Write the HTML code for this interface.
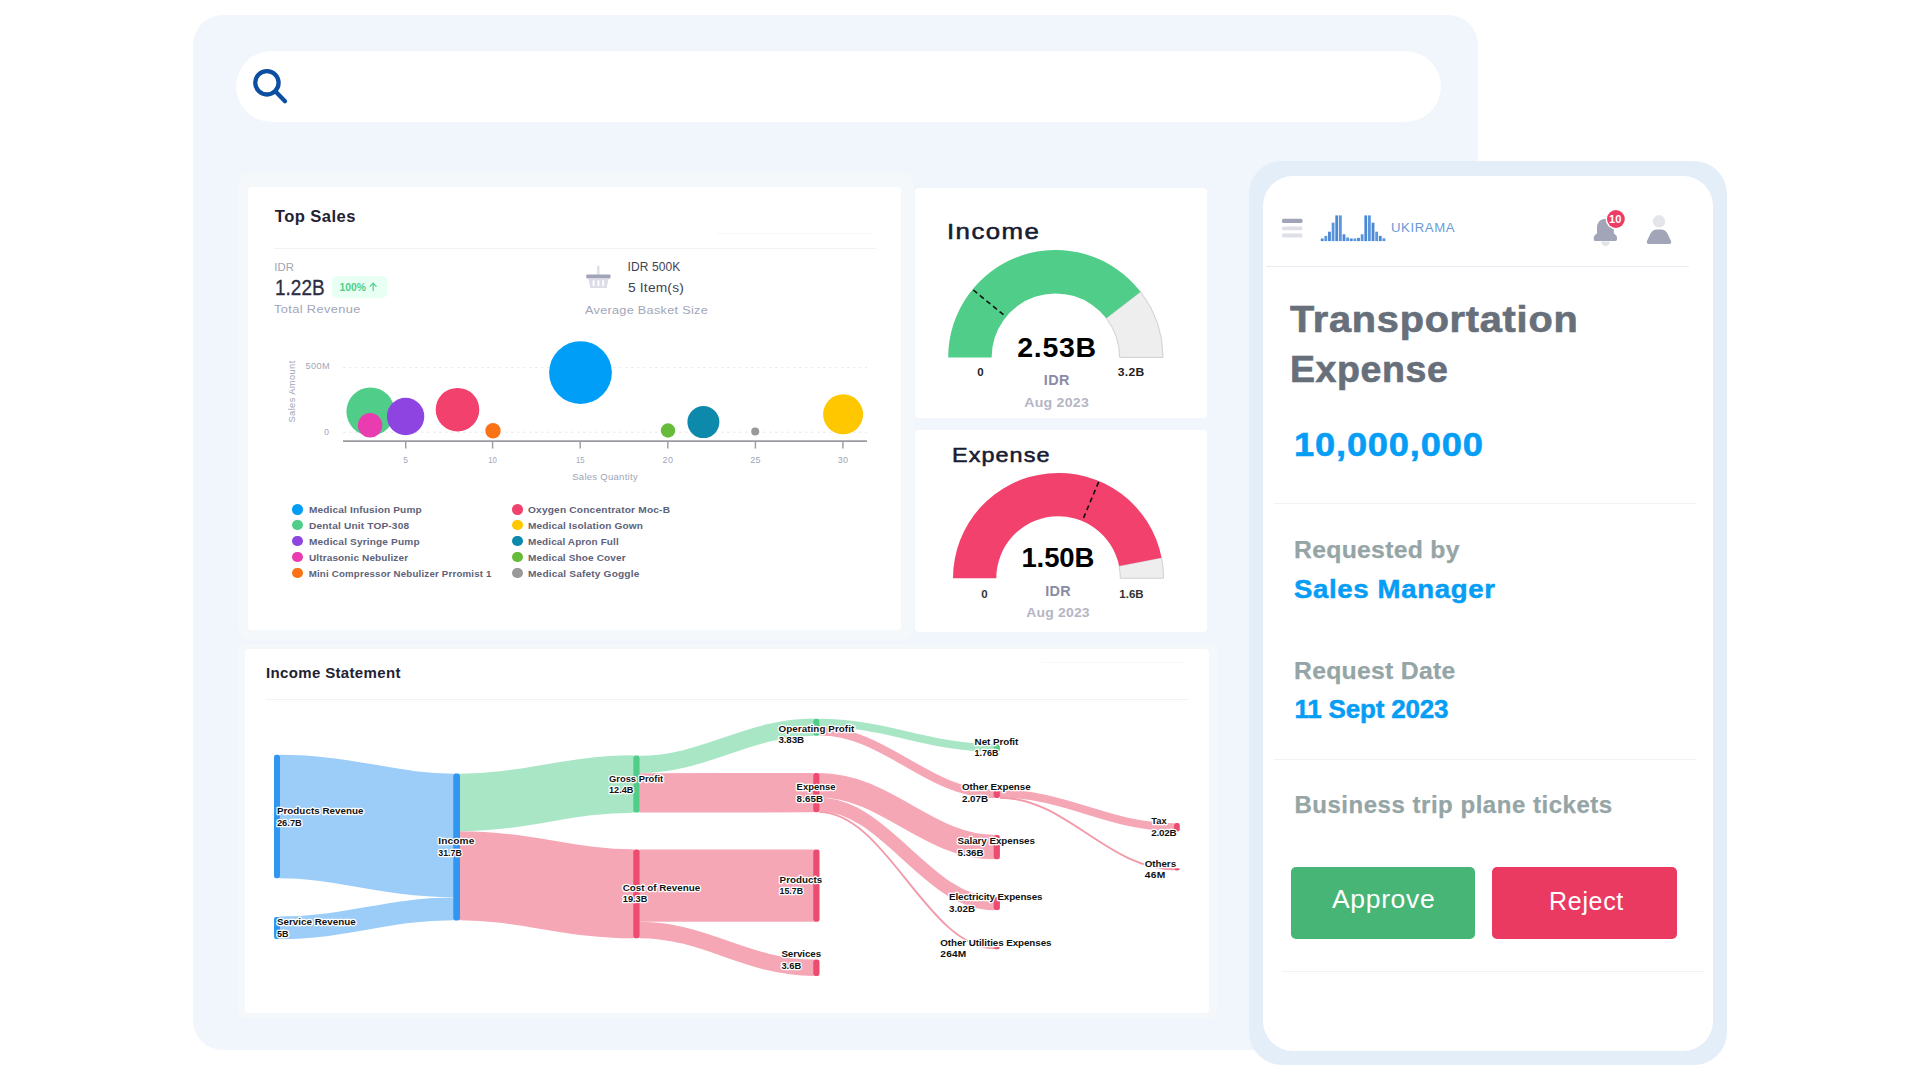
<!DOCTYPE html>
<html lang="en"><head><meta charset="utf-8"><title>Ukirama Dashboard</title>
<style>

html,body{margin:0;padding:0;background:#fff;}
body{width:1920px;height:1080px;position:relative;overflow:hidden;font-family:"Liberation Sans", sans-serif;}
.abs{position:absolute;}
.t{position:absolute;white-space:nowrap;line-height:1;display:block;transform-origin:0 0;}
.panel{left:193px;top:15px;width:1285px;height:1035px;background:#f1f5fc;border-radius:30px;}
.search{left:236px;top:51px;width:1205px;height:71px;background:#fff;border-radius:36px;}
.halo{left:237.5px;top:172px;width:676.3px;height:469px;background:#f5f8fb;border-radius:14px;}
.halo2{left:237.5px;top:644px;width:979.2px;height:374px;background:#f5f8fb;border-radius:5px;}
.card{background:#fff;border-radius:4px;}
.c-top{left:248px;top:187px;width:653px;height:443px;}
.c-inc{left:914.5px;top:187.5px;width:292px;height:230.5px;}
.c-exp{left:914.5px;top:429.5px;width:292px;height:202.5px;}
.c-is{left:244.7px;top:648.7px;width:964px;height:364px;}
.hr{height:1px;background:#f0f2f6;}
.phone-o{left:1249px;top:161px;width:478px;height:904.3px;background:#e4eef9;border-radius:33px;}
.phone-i{left:1263px;top:175.6px;width:450px;height:875.6px;background:#fff;border-radius:30px;}
.btn{border-radius:5px;height:72px;top:866.7px;}
.badge{left:331.5px;top:276.3px;width:55.8px;height:22.2px;border-radius:5px;background:#e8fff3;}
.dot{width:10.6px;height:10.6px;border-radius:50%;}
svg{position:absolute;left:0;top:0;overflow:visible;}
svg text{font-family:"Liberation Sans", sans-serif;white-space:pre;}

</style></head><body>
<div class="abs panel"></div>
<div class="abs search"></div>
<svg width="1920" height="1080" viewBox="0 0 1920 1080"><g fill="none" stroke="#0b4ea2" stroke-width="4.3" stroke-linecap="round"><circle cx="266.9" cy="82.8" r="11.7"/><path d="M275.6 91.6 L285.0 101.2"/></g></svg>
<div class="abs halo"></div><div class="abs halo2"></div>
<div class="abs card c-top"></div><div class="abs card c-inc"></div><div class="abs card c-exp"></div><div class="abs card c-is"></div>
<div class="abs hr" style="left:274px;top:247.5px;width:602px;"></div>
<div class="abs hr" style="left:716px;top:233px;width:156px;background:#f7f8fa;"></div>
<div class="abs hr" style="left:266px;top:698.5px;width:922px;"></div>
<div class="abs hr" style="left:1042px;top:662px;width:142px;background:#f7f8fa;"></div>
<div class="abs badge"></div>
<div class="abs dot" style="left:292.3px;top:504.0px;background:#009ef7"></div>
<div class="abs dot" style="left:292.3px;top:519.9px;background:#50cd89"></div>
<div class="abs dot" style="left:292.3px;top:535.9px;background:#8e44e0"></div>
<div class="abs dot" style="left:292.3px;top:551.9px;background:#e83cb0"></div>
<div class="abs dot" style="left:292.3px;top:567.9px;background:#f97316"></div>
<div class="abs dot" style="left:512.0px;top:504.0px;background:#f1416c"></div>
<div class="abs dot" style="left:512.0px;top:519.9px;background:#ffc700"></div>
<div class="abs dot" style="left:512.0px;top:535.9px;background:#0d8aab"></div>
<div class="abs dot" style="left:512.0px;top:551.9px;background:#66bb3a"></div>
<div class="abs dot" style="left:512.0px;top:567.9px;background:#999999"></div>
<svg id="bubble" width="1920" height="1080" viewBox="0 0 1920 1080">
<g stroke="#e4e6ef" stroke-width="1" stroke-dasharray="2.5 3.5"><path d="M343 367.7H867"/><path d="M343 432.2H867"/></g>
<path d="M343 441.2H867" stroke="#9b9ba0" stroke-width="1.8"/>
<g stroke="#9b9ba0" stroke-width="1.4"><path d="M405.7 441V448.6"/><path d="M492.6 441V448.6"/><path d="M580.2 441V448.6"/><path d="M667.8 441V448.6"/><path d="M755.4 441V448.6"/><path d="M842.9 441V448.6"/></g>
<circle cx="370.5" cy="411.6" r="24.1" fill="#50cd89"/>
<circle cx="405.6" cy="416.5" r="18.7" fill="#8e44e0"/>
<circle cx="370.1" cy="425.3" r="12.2" fill="#e83cb0"/>
<circle cx="457.5" cy="409.7" r="21.8" fill="#f1416c"/>
<circle cx="493.0" cy="430.8" r="7.7" fill="#f97316"/>
<circle cx="580.5" cy="372.6" r="31.4" fill="#009ef7"/>
<circle cx="668.0" cy="430.5" r="7.2" fill="#66bb3a"/>
<circle cx="703.4" cy="422.1" r="16.0" fill="#0d8aab"/>
<circle cx="755.2" cy="431.4" r="4.0" fill="#999999"/>
<circle cx="843.1" cy="414.3" r="20.0" fill="#ffc700"/>
<text id="b_500" transform="translate(305.6,368.6) scale(1.0901,1)" x="0.0" y="0" font-size="8.4" font-weight="400" fill="#a1a5b7" letter-spacing="0.385" >500M</text>
<text id="b_0" transform="translate(324.2,435.0) scale(1.0000,1)" x="0.0" y="0" font-size="8.4" font-weight="400" fill="#a1a5b7" letter-spacing="0.000" >0</text>
<text id="b_x0" transform="translate(403.3,463.0) scale(1.0000,1)" x="0.0" y="0" font-size="8.4" font-weight="400" fill="#a1a5b7" letter-spacing="0.000" >5</text>
<text id="b_x1" transform="translate(488.3,463.0) scale(0.9219,1)" x="0.0" y="0" font-size="8.4" font-weight="400" fill="#a1a5b7" letter-spacing="0.000" >10</text>
<text id="b_x2" transform="translate(575.9,463.0) scale(0.9219,1)" x="0.0" y="0" font-size="8.4" font-weight="400" fill="#a1a5b7" letter-spacing="0.000" >15</text>
<text id="b_x3" transform="translate(662.6,463.0) scale(1.0689,1)" x="0.0" y="0" font-size="8.4" font-weight="400" fill="#a1a5b7" letter-spacing="0.401" >20</text>
<text id="b_x4" transform="translate(750.2,463.0) scale(1.0689,1)" x="0.0" y="0" font-size="8.4" font-weight="400" fill="#a1a5b7" letter-spacing="0.401" >25</text>
<text id="b_x5" transform="translate(837.7,463.0) scale(1.0689,1)" x="0.0" y="0" font-size="8.4" font-weight="400" fill="#a1a5b7" letter-spacing="0.401" >30</text>
<text id="b_sq" transform="translate(572.2,480.3) scale(1.1032,1)" x="0.0" y="0" font-size="8.6" font-weight="400" fill="#a1a5b7" letter-spacing="0.268" >Sales Quantity</text>
<text id="b_sa" transform="translate(294.6,391.6) rotate(-90) scale(1.1338,1)" x="-27.3" y="0" font-size="8.2" font-weight="400" fill="#a1a5b7" letter-spacing="0.361" >Sales Amount</text>
<path d="M373.2 290.6V283.4M370.2 286.3L373.2 283.2L376.2 286.3" stroke="#50cd89" stroke-width="1.15" fill="none" stroke-linecap="round" stroke-linejoin="round"/>
<g><path d="M598.3 265.6V275" stroke="#dcdde6" stroke-width="2.3"/><rect x="586.3" y="274.6" width="24.2" height="3.8" rx="1" fill="#a1a3b8"/><path d="M588.3 278.4H608.6L606.6 288H590.3Z" fill="#dcdde6"/><g stroke="#fff" stroke-width="1.9"><path d="M593.6 280.3V286.2"/><path d="M598.4 280.3V286.2"/><path d="M603.2 280.3V286.2"/></g></g>
</svg>
<svg id="gauges" width="1920" height="1080" viewBox="0 0 1920 1080">
<path d="M1140.59,291.74 A107.40,107.40 0 0 1 1163.00,357.40 L1119.60,357.40 A64.00,64.00 0 0 0 1106.25,318.27 Z" fill="#eeeeee" stroke="#d0d0d0" stroke-width="1"/>
<path d="M948.20,357.40 A107.40,107.40 0 0 1 1140.59,291.74 L1106.25,318.27 A64.00,64.00 0 0 0 991.60,357.40 Z" fill="#50cd89"/>
<path d="M973.3 290.0L1006.1 316.9" stroke="#111" stroke-width="1.6" stroke-dasharray="5 3.5"/>
<path d="M1161.58,557.66 A105.30,105.30 0 0 1 1163.60,578.20 L1120.30,578.20 A62.00,62.00 0 0 0 1119.11,566.10 Z" fill="#eeeeee" stroke="#d0d0d0" stroke-width="1"/>
<path d="M953.00,578.20 A105.30,105.30 0 0 1 1161.58,557.66 L1119.11,566.10 A62.00,62.00 0 0 0 996.30,578.20 Z" fill="#f1416c"/>
<path d="M1098.6 482.0L1082.2 521.0" stroke="#111" stroke-width="1.6" stroke-dasharray="5 3.5"/>
<text id="gi_v" transform="translate(1017.2,356.5) scale(1.0000,1)" x="0.0" y="0" font-size="28.5" font-weight="700" fill="#000000" letter-spacing="0.709" >2.53B</text>
<text id="gi_0" transform="translate(977.3,376.3) scale(1.0000,1)" x="0.0" y="0" font-size="11.5" font-weight="700" fill="#222222" letter-spacing="0.000" >0</text>
<text id="gi_m" transform="translate(1117.7,376.3) scale(1.0569,1)" x="0.0" y="0" font-size="11.5" font-weight="700" fill="#222222" letter-spacing="0.291" >3.2B</text>
<text id="gi_idr" transform="translate(1043.8,385.3) scale(1.0438,1)" x="0.0" y="0" font-size="13.8" font-weight="700" fill="#8a8ba5" letter-spacing="0.332" >IDR</text>
<text id="gi_d" transform="translate(1024.2,406.8) scale(1.0457,1)" x="0.0" y="0" font-size="13.5" font-weight="700" fill="#b5b5c3" letter-spacing="0.250" >Aug 2023</text>
<text id="ge_v" transform="translate(1021.4,567.4) scale(1.0000,1)" x="0.0" y="0" font-size="27.5" font-weight="700" fill="#000000" letter-spacing="-0.098" >1.50B</text>
<text id="ge_0" transform="translate(981.2,597.6) scale(1.0000,1)" x="0.0" y="0" font-size="11.5" font-weight="700" fill="#333333" letter-spacing="0.000" >0</text>
<text id="ge_m" transform="translate(1119.3,597.6) scale(1.0000,1)" x="0.0" y="0" font-size="11.5" font-weight="700" fill="#333333" letter-spacing="0.001" >1.6B</text>
<text id="ge_idr" transform="translate(1045.2,595.8) scale(1.0438,1)" x="0.0" y="0" font-size="13.8" font-weight="700" fill="#8a8ba5" letter-spacing="0.332" >IDR</text>
<text id="ge_d" transform="translate(1026.2,616.9) scale(1.0347,1)" x="0.0" y="0" font-size="13.5" font-weight="700" fill="#b5b5c3" letter-spacing="0.192" >Aug 2023</text>
</svg>
<svg id="sankey" width="1920" height="1080" viewBox="0 0 1920 1080">
<path d="M279.5,816.5 C345.6,816.5 387.4,835.4 453.5,835.4" fill="none" stroke="#9ccdf9" stroke-width="123.55"/>
<path d="M279.5,927.9 C345.6,927.9 387.4,908.9 453.5,908.9" fill="none" stroke="#9ccdf9" stroke-width="22.65"/>
<path d="M459.8,802.4 C525.8,802.4 567.5,784.0 633.5,784.0" fill="none" stroke="#a9e6c5" stroke-width="57.30"/>
<path d="M459.8,875.8 C525.8,875.8 567.5,893.8 633.5,893.8" fill="none" stroke="#f5a7b6" stroke-width="89.10"/>
<path d="M639.5,764.4 C705.6,764.4 747.4,727.2 813.5,727.2" fill="none" stroke="#a9e6c5" stroke-width="17.35"/>
<path d="M639.5,792.9 C705.6,792.9 747.4,792.6 813.5,792.6" fill="none" stroke="#f5a7b6" stroke-width="39.40"/>
<path d="M639.5,885.5 C705.6,885.5 747.4,885.6 813.5,885.6" fill="none" stroke="#f5a7b6" stroke-width="72.25"/>
<path d="M639.5,930.0 C705.6,930.0 747.4,967.8 813.5,967.8" fill="none" stroke="#f5a7b6" stroke-width="16.40"/>
<path d="M819.3,722.8 C885.7,722.8 927.6,747.8 994.0,747.8" fill="none" stroke="#a9e6c5" stroke-width="7.90"/>
<path d="M819.3,731.3 C885.7,731.3 927.6,793.9 994.0,793.9" fill="none" stroke="#f5a7b6" stroke-width="8.50"/>
<path d="M819.3,785.3 C885.7,785.3 927.6,847.1 994.0,847.1" fill="none" stroke="#f5a7b6" stroke-width="24.50"/>
<path d="M819.3,804.5 C885.7,804.5 927.6,903.6 994.0,903.6" fill="none" stroke="#f5a7b6" stroke-width="13.35"/>
<path d="M819.3,812.1 C885.7,812.1 927.6,948.1 994.0,948.1" fill="none" stroke="#f29aaa" stroke-width="1.90"/>
<path d="M999.8,793.6 C1066.1,793.6 1107.9,827.2 1174.2,827.2" fill="none" stroke="#f5a7b6" stroke-width="7.95"/>
<path d="M999.8,797.7 C1066.1,797.7 1107.9,869.3 1174.2,869.3" fill="none" stroke="#f29aaa" stroke-width="1.90"/>
<rect x="274.0" y="754.8" width="6.0" height="123.5" rx="2.2" fill="#3196f0"/>
<rect x="274.0" y="916.9" width="6.0" height="22.0" rx="2.2" fill="#3196f0"/>
<rect x="453.2" y="773.6" width="6.8" height="146.9" rx="2.2" fill="#3196f0"/>
<rect x="633.2" y="755.5" width="6.5" height="57.1" rx="2.2" fill="#50cd89"/>
<rect x="633.2" y="849.4" width="6.5" height="88.8" rx="2.2" fill="#ec4c70"/>
<rect x="813.2" y="718.7" width="6.3" height="17.0" rx="2.2" fill="#50cd89"/>
<rect x="813.2" y="772.9" width="6.3" height="39.4" rx="2.2" fill="#ec4c70"/>
<rect x="813.2" y="849.5" width="6.3" height="72.2" rx="2.2" fill="#ec4c70"/>
<rect x="813.2" y="959.6" width="6.3" height="16.3" rx="2.2" fill="#ec4c70"/>
<rect x="993.7" y="744.0" width="6.2" height="7.6" rx="2.2" fill="#50cd89"/>
<rect x="993.7" y="789.8" width="6.2" height="8.2" rx="2.2" fill="#ec4c70"/>
<rect x="993.7" y="835.0" width="6.2" height="24.2" rx="2.2" fill="#ec4c70"/>
<rect x="993.7" y="897.1" width="6.2" height="13.0" rx="2.2" fill="#ec4c70"/>
<rect x="993.7" y="947.0" width="6.2" height="2.2" rx="2.2" fill="#ec4c70"/>
<rect x="1174.0" y="823.1" width="5.8" height="8.3" rx="2.2" fill="#ec4c70"/>
<rect x="1174.0" y="868.2" width="5.8" height="2.2" rx="2.2" fill="#ec4c70"/>
<g stroke="#ffffff" stroke-width="2.6" stroke-linejoin="round" paint-order="stroke" style="paint-order:stroke">
<text id="s_a0" transform="translate(276.9,814.0) scale(1.0000,1)" x="0.0" y="0" font-size="9.8" font-weight="700" fill="#111111" letter-spacing="0.038" >Products Revenue</text>
<text id="s_b0" transform="translate(276.9,825.6) scale(0.9558,1)" x="0.0" y="0" font-size="9.8" font-weight="700" fill="#111111" letter-spacing="0.000" >26.7B</text>
<text id="s_a1" transform="translate(277.0,925.2) scale(1.0000,1)" x="0.0" y="0" font-size="9.8" font-weight="700" fill="#111111" letter-spacing="0.019" >Service Revenue</text>
<text id="s_b1" transform="translate(277.0,936.8) scale(0.9177,1)" x="0.0" y="0" font-size="9.8" font-weight="700" fill="#111111" letter-spacing="0.000" >5B</text>
<text id="s_a2" transform="translate(438.3,844.0) scale(1.0313,1)" x="0.0" y="0" font-size="9.8" font-weight="700" fill="#111111" letter-spacing="0.139" >Income</text>
<text id="s_b2" transform="translate(438.3,855.6) scale(0.8984,1)" x="0.0" y="0" font-size="9.8" font-weight="700" fill="#111111" letter-spacing="0.000" >31.7B</text>
<text id="s_a3" transform="translate(609.0,781.5) scale(0.9572,1)" x="0.0" y="0" font-size="9.8" font-weight="700" fill="#111111" letter-spacing="0.000" >Gross Profit</text>
<text id="s_b3" transform="translate(609.0,793.1) scale(0.9367,1)" x="0.0" y="0" font-size="9.8" font-weight="700" fill="#111111" letter-spacing="0.000" >12.4B</text>
<text id="s_a4" transform="translate(622.8,890.5) scale(1.0000,1)" x="0.0" y="0" font-size="9.8" font-weight="700" fill="#111111" letter-spacing="-0.001" >Cost of Revenue</text>
<text id="s_b4" transform="translate(622.8,902.1) scale(0.9367,1)" x="0.0" y="0" font-size="9.8" font-weight="700" fill="#111111" letter-spacing="0.000" >19.3B</text>
<text id="s_a5" transform="translate(778.5,731.7) scale(1.0000,1)" x="0.0" y="0" font-size="9.8" font-weight="700" fill="#111111" letter-spacing="0.081" >Operating Profit</text>
<text id="s_b5" transform="translate(778.5,743.3) scale(1.0000,1)" x="0.0" y="0" font-size="9.8" font-weight="700" fill="#111111" letter-spacing="-0.164" >3.83B</text>
<text id="s_a6" transform="translate(796.6,789.9) scale(0.9674,1)" x="0.0" y="0" font-size="9.8" font-weight="700" fill="#111111" letter-spacing="0.000" >Expense</text>
<text id="s_b6" transform="translate(796.6,801.5) scale(1.0000,1)" x="0.0" y="0" font-size="9.8" font-weight="700" fill="#111111" letter-spacing="0.086" >8.65B</text>
<text id="s_a7" transform="translate(779.6,882.7) scale(1.0000,1)" x="0.0" y="0" font-size="9.8" font-weight="700" fill="#111111" letter-spacing="0.019" >Products</text>
<text id="s_b7" transform="translate(779.6,894.3) scale(0.8984,1)" x="0.0" y="0" font-size="9.8" font-weight="700" fill="#111111" letter-spacing="0.000" >15.7B</text>
<text id="s_a8" transform="translate(781.4,957.0) scale(1.0000,1)" x="0.0" y="0" font-size="9.8" font-weight="700" fill="#111111" letter-spacing="-0.087" >Services</text>
<text id="s_b8" transform="translate(781.4,968.6) scale(0.9564,1)" x="0.0" y="0" font-size="9.8" font-weight="700" fill="#111111" letter-spacing="0.000" >3.6B</text>
<text id="s_a9" transform="translate(974.6,744.7) scale(1.0000,1)" x="0.0" y="0" font-size="9.8" font-weight="700" fill="#111111" letter-spacing="-0.044" >Net Profit</text>
<text id="s_b9" transform="translate(974.6,756.3) scale(0.9099,1)" x="0.0" y="0" font-size="9.8" font-weight="700" fill="#111111" letter-spacing="0.000" >1.76B</text>
<text id="s_a10" transform="translate(962.0,790.2) scale(1.0000,1)" x="0.0" y="0" font-size="9.8" font-weight="700" fill="#111111" letter-spacing="-0.046" >Other Expense</text>
<text id="s_b10" transform="translate(962.0,801.8) scale(1.0000,1)" x="0.0" y="0" font-size="9.8" font-weight="700" fill="#111111" letter-spacing="-0.039" >2.07B</text>
<text id="s_a11" transform="translate(957.6,844.0) scale(1.0000,1)" x="0.0" y="0" font-size="9.8" font-weight="700" fill="#111111" letter-spacing="-0.042" >Salary Expenses</text>
<text id="s_b11" transform="translate(957.6,855.6) scale(1.0000,1)" x="0.0" y="0" font-size="9.8" font-weight="700" fill="#111111" letter-spacing="-0.039" >5.36B</text>
<text id="s_a12" transform="translate(949.0,900.0) scale(1.0000,1)" x="0.0" y="0" font-size="9.8" font-weight="700" fill="#111111" letter-spacing="-0.095" >Electricity Expenses</text>
<text id="s_b12" transform="translate(949.0,911.6) scale(1.0000,1)" x="0.0" y="0" font-size="9.8" font-weight="700" fill="#111111" letter-spacing="-0.039" >3.02B</text>
<text id="s_a13" transform="translate(940.3,945.5) scale(1.0000,1)" x="0.0" y="0" font-size="9.8" font-weight="700" fill="#111111" letter-spacing="-0.065" >Other Utilities Expenses</text>
<text id="s_b13" transform="translate(940.3,957.1) scale(1.0363,1)" x="0.0" y="0" font-size="9.8" font-weight="700" fill="#111111" letter-spacing="0.191" >264M</text>
<text id="s_a14" transform="translate(1151.2,824.2) scale(0.9594,1)" x="0.0" y="0" font-size="9.8" font-weight="700" fill="#111111" letter-spacing="0.000" >Tax</text>
<text id="s_b14" transform="translate(1151.2,835.8) scale(1.0000,1)" x="0.0" y="0" font-size="9.8" font-weight="700" fill="#111111" letter-spacing="-0.164" >2.02B</text>
<text id="s_a15" transform="translate(1144.7,866.8) scale(1.0000,1)" x="0.0" y="0" font-size="9.8" font-weight="700" fill="#111111" letter-spacing="-0.036" >Others</text>
<text id="s_b15" transform="translate(1144.7,878.4) scale(1.0452,1)" x="0.0" y="0" font-size="9.8" font-weight="700" fill="#111111" letter-spacing="0.275" >46M</text>
</g></svg>
<div class="abs phone-o"></div><div class="abs phone-i"></div>
<div class="abs hr" style="left:1266px;top:266.2px;width:423px;background:#e9edf3;"></div>
<div class="abs hr" style="left:1274px;top:503.2px;width:422px;"></div>
<div class="abs hr" style="left:1274px;top:758.7px;width:422px;"></div>
<div class="abs hr" style="left:1282px;top:971.2px;width:422px;"></div>
<div class="abs btn" style="left:1291px;width:184.3px;background:#46b575;"></div>
<div class="abs btn" style="left:1492.2px;width:184.5px;background:#eb3a62;"></div>
<svg id="phoneicons" width="1920" height="1080" viewBox="0 0 1920 1080">
<rect x="1282" y="218.8" width="20.5" height="4.2" rx="1.5" fill="#a1a3b8"/><rect x="1282" y="226.5" width="20.5" height="3.8" rx="1.5" fill="#dedfe7"/><rect x="1282" y="233.6" width="20.5" height="3.8" rx="1.5" fill="#dedfe7"/>
<rect x="1320.80" y="238.50" width="2.8" height="2.60" fill="#4a88d6"/>
<rect x="1324.43" y="235.90" width="2.8" height="5.20" fill="#5b95dc"/>
<rect x="1328.06" y="231.70" width="2.8" height="9.40" fill="#4a88d6"/>
<rect x="1331.69" y="222.70" width="2.8" height="18.40" fill="#5b95dc"/>
<rect x="1335.32" y="215.40" width="2.8" height="25.70" fill="#4a88d6"/>
<rect x="1338.95" y="215.40" width="2.8" height="25.70" fill="#5b95dc"/>
<rect x="1342.58" y="234.30" width="2.8" height="6.80" fill="#4a88d6"/>
<rect x="1346.21" y="237.50" width="2.8" height="3.60" fill="#5b95dc"/>
<rect x="1349.84" y="238.50" width="2.8" height="2.60" fill="#4a88d6"/>
<rect x="1353.47" y="238.50" width="2.8" height="2.60" fill="#5b95dc"/>
<rect x="1357.10" y="237.90" width="2.8" height="3.20" fill="#4a88d6"/>
<rect x="1360.73" y="234.30" width="2.8" height="6.80" fill="#5b95dc"/>
<rect x="1364.36" y="215.40" width="2.8" height="25.70" fill="#4a88d6"/>
<rect x="1367.99" y="215.40" width="2.8" height="25.70" fill="#5b95dc"/>
<rect x="1371.62" y="222.70" width="2.8" height="18.40" fill="#4a88d6"/>
<rect x="1375.25" y="231.70" width="2.8" height="9.40" fill="#5b95dc"/>
<rect x="1378.88" y="235.90" width="2.8" height="5.20" fill="#4a88d6"/>
<rect x="1382.51" y="238.30" width="2.8" height="2.80" fill="#5b95dc"/>
<path d="M1605.4 218.8c-5 0-8.4 3.8-8.4 9.2v5.2l-2.6 2.6c-.5.5-.6 1-.6 1.6v1.8c0 1 .8 1.8 1.8 1.8h19.6c1 0 1.8-.8 1.8-1.8v-1.8c0-.6-.2-1.1-.6-1.6l-2.6-2.6V228c0-5.4-3.4-9.2-8.4-9.2z" fill="#a1a5b7"/>
<path d="M1601.2 241.6a4.3 4.3 0 0 0 8.6 0z" fill="#e1e3ea"/>
<circle cx="1615.9" cy="219.0" r="10.3" fill="#fff"/><circle cx="1615.9" cy="219.0" r="8.9" fill="#ee3d65"/>
<circle cx="1659" cy="221.3" r="6.2" fill="#e4e5ea"/>
<path d="M1648.8 243.9c-1.7 0-2.5-1.3-1.8-2.9l3.4-7.2c1.5-2.9 3.6-4.3 6.6-4.3h4c3 0 5.1 1.4 6.6 4.3l3.4 7.2c.7 1.6-.1 2.9-1.800 2.9z" fill="#a1a5b7"/>
</svg>
<span id="t_top" class="t" style="left:274.8px;top:209.2px;font-size:16.6px;font-weight:700;color:#1f2233;letter-spacing:0.430px;">Top Sales</span>
<span id="t_idr" class="t" style="left:274.3px;top:262.0px;font-size:11.3px;font-weight:400;color:#a1a5b7;letter-spacing:0.016px;">IDR</span>
<span id="t_122" class="t" style="left:274.5px;top:277.4px;font-size:22.0px;font-weight:400;color:#2b2d42;letter-spacing:0.000px;transform:scaleX(0.8626);-webkit-text-stroke:0.3px #2b2d42;">1.22B</span>
<span id="t_pct" class="t" style="left:339.4px;top:283.0px;font-size:10.3px;font-weight:700;color:#50cd89;letter-spacing:0.085px;">100%</span>
<span id="t_rev" class="t" style="left:274.3px;top:303.5px;font-size:11.8px;font-weight:400;color:#a1a5b7;letter-spacing:0.337px;transform:scaleX(1.0873);">Total Revenue</span>
<span id="t_500k" class="t" style="left:627.6px;top:261.0px;font-size:12.0px;font-weight:400;color:#3f4254;letter-spacing:0.081px;">IDR 500K</span>
<span id="t_items" class="t" style="left:627.6px;top:280.8px;font-size:13.2px;font-weight:400;color:#3f4254;letter-spacing:0.181px;transform:scaleX(1.0435);">5 Item(s)</span>
<span id="t_abs" class="t" style="left:584.5px;top:304.8px;font-size:11.8px;font-weight:400;color:#a1a5b7;letter-spacing:0.277px;transform:scaleX(1.0736);">Average Basket Size</span>
<span id="lg1_0" class="t" style="left:308.7px;top:504.6px;font-size:9.7px;font-weight:700;color:#5e6278;letter-spacing:0.138px;transform:scaleX(1.0409);">Medical Infusion Pump</span>
<span id="lg1_1" class="t" style="left:308.7px;top:520.5px;font-size:9.7px;font-weight:700;color:#5e6278;letter-spacing:0.152px;transform:scaleX(1.0461);">Dental Unit TOP-308</span>
<span id="lg1_2" class="t" style="left:308.7px;top:536.5px;font-size:9.7px;font-weight:700;color:#5e6278;letter-spacing:0.146px;transform:scaleX(1.0419);">Medical Syringe Pump</span>
<span id="lg1_3" class="t" style="left:308.7px;top:552.5px;font-size:9.7px;font-weight:700;color:#5e6278;letter-spacing:0.110px;transform:scaleX(1.0348);">Ultrasonic Nebulizer</span>
<span id="lg1_4" class="t" style="left:308.7px;top:568.5px;font-size:9.7px;font-weight:700;color:#5e6278;letter-spacing:0.193px;">Mini Compressor Nebulizer Prromist 1</span>
<span id="lg2_0" class="t" style="left:528.2px;top:504.6px;font-size:9.7px;font-weight:700;color:#5e6278;letter-spacing:0.169px;transform:scaleX(1.0487);">Oxygen Concentrator Moc-B</span>
<span id="lg2_1" class="t" style="left:528.2px;top:520.5px;font-size:9.7px;font-weight:700;color:#5e6278;letter-spacing:0.131px;transform:scaleX(1.0398);">Medical Isolation Gown</span>
<span id="lg2_2" class="t" style="left:528.2px;top:536.5px;font-size:9.7px;font-weight:700;color:#5e6278;letter-spacing:0.101px;transform:scaleX(1.0306);">Medical Apron Full</span>
<span id="lg2_3" class="t" style="left:528.2px;top:552.5px;font-size:9.7px;font-weight:700;color:#5e6278;letter-spacing:0.128px;transform:scaleX(1.0367);">Medical Shoe Cover</span>
<span id="lg2_4" class="t" style="left:528.2px;top:568.5px;font-size:9.7px;font-weight:700;color:#5e6278;letter-spacing:0.152px;transform:scaleX(1.0460);">Medical Safety Goggle</span>
<span id="g_inc" class="t" style="left:946.5px;top:220.5px;font-size:22.5px;font-weight:400;color:#181c32;letter-spacing:1.262px;transform:scaleX(1.1472);-webkit-text-stroke:0.55px #181c32;">Income</span>
<span id="g_exp" class="t" style="left:951.5px;top:444.0px;font-size:21.0px;font-weight:400;color:#181c32;letter-spacing:0.942px;transform:scaleX(1.1157);-webkit-text-stroke:0.55px #181c32;">Expense</span>
<span id="is_t" class="t" style="left:266.1px;top:664.9px;font-size:15.0px;font-weight:700;color:#1f2233;letter-spacing:0.340px;">Income Statement</span>
<span id="p_uk" class="t" style="left:1390.8px;top:222.3px;font-size:12.0px;font-weight:400;color:#6a9bd8;letter-spacing:0.541px;transform:scaleX(1.0978);">UKIRAMA</span>
<span id="p_tr" class="t" style="left:1290.0px;top:301.0px;font-size:37.5px;font-weight:700;color:#67707a;letter-spacing:0.730px;transform:scaleX(1.0573);-webkit-text-stroke:0.7px #67707a;">Transportation</span>
<span id="p_ex" class="t" style="left:1290.0px;top:351.2px;font-size:37.5px;font-weight:700;color:#67707a;letter-spacing:0.592px;-webkit-text-stroke:0.7px #67707a;">Expense</span>
<span id="p_amt" class="t" style="left:1294.4px;top:427.4px;font-size:34.0px;font-weight:700;color:#069df5;letter-spacing:0.781px;transform:scaleX(1.0660);-webkit-text-stroke:0.6px #069df5;">10,000,000</span>
<span id="p_rb" class="t" style="left:1294.4px;top:537.8px;font-size:24.0px;font-weight:700;color:#95a5a6;letter-spacing:0.287px;transform:scaleX(1.0310);-webkit-text-stroke:0.25px #95a5a6;">Requested by</span>
<span id="p_sm" class="t" style="left:1294.4px;top:575.8px;font-size:26.0px;font-weight:700;color:#069df5;letter-spacing:0.590px;transform:scaleX(1.0620);-webkit-text-stroke:0.5px #069df5;">Sales Manager</span>
<span id="p_rd" class="t" style="left:1294.4px;top:658.7px;font-size:24.0px;font-weight:700;color:#95a5a6;letter-spacing:0.280px;transform:scaleX(1.0310);-webkit-text-stroke:0.25px #95a5a6;">Request Date</span>
<span id="p_dt" class="t" style="left:1294.4px;top:695.8px;font-size:26.0px;font-weight:700;color:#069df5;letter-spacing:-0.175px;-webkit-text-stroke:0.5px #069df5;">11 Sept 2023</span>
<span id="p_bt" class="t" style="left:1294.4px;top:793.3px;font-size:24.0px;font-weight:700;color:#95a5a6;letter-spacing:0.527px;-webkit-text-stroke:0.25px #95a5a6;">Business trip plane tickets</span>
<span id="p_ap" class="t" style="left:1331.8px;top:886.6px;font-size:25.0px;font-weight:400;color:#ffffff;letter-spacing:0.601px;transform:scaleX(1.0617);">Approve</span>
<span id="p_rj" class="t" style="left:1549.1px;top:888.8px;font-size:25.0px;font-weight:400;color:#ffffff;letter-spacing:0.665px;">Reject</span>
<span id="p_10" class="t" style="left:1609.1px;top:213.8px;font-size:11.8px;font-weight:700;color:#ffffff;letter-spacing:0.000px;transform:scaleX(0.9371);">10</span>
</body></html>
